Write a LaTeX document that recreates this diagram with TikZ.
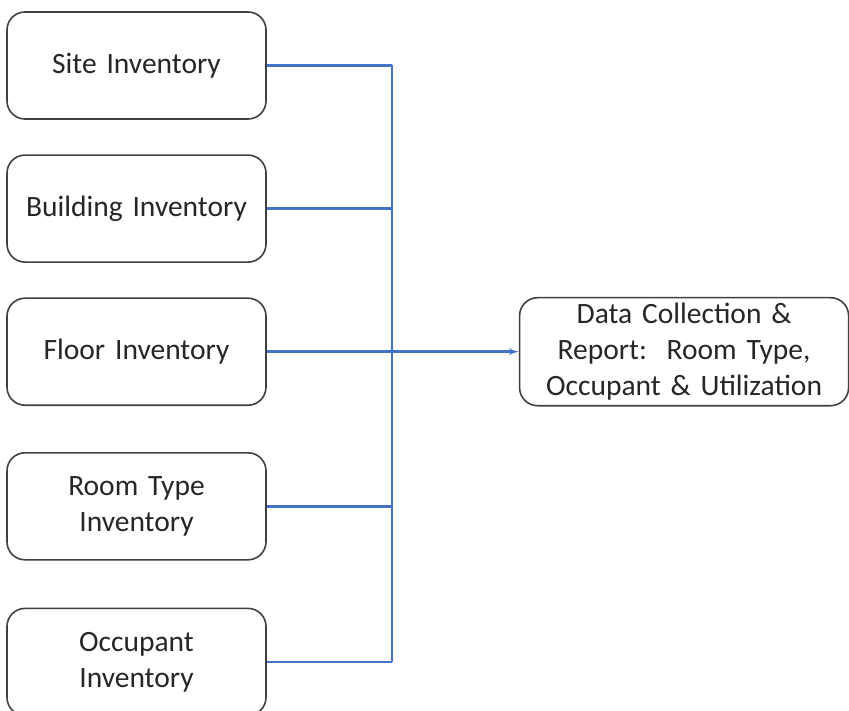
\documentclass[tikz,border=0pt]{standalone}
\usepackage{fontspec}
\setmainfont{Carlito}
\usetikzlibrary{shapes,arrows,positioning}
\definecolor{linkblue}{RGB}{68,114,196}
\definecolor{boxgrey}{RGB}{64,64,64}
\tikzstyle{block} = [rectangle, draw=boxgrey, line width=1.6pt, text=black!85,
    text width=245pt, align=center, rounded corners=18pt,
    minimum width=259pt, minimum height=107pt,
    font=\fontsize{29.5}{36}\selectfont]
\tikzstyle{line} = [draw=linkblue, line width=2.4pt]

\begin{document}
\begin{tikzpicture}[x=1pt, y=-1pt]
	    \useasboundingbox (0,0) rectangle (849,711);
	    % Place nodes
	    \node [block] (site) at (136.5,65.5) {Site Inventory};
	    \node [block, below=34.5pt of site] (building) {Building Inventory};
	    \node [block, below=34.5pt of building] (floor) {Floor Inventory};
	    \node [block, below=46pt of floor] (roomtype) {Room Type\\Inventory};
	    \node [block, below=47pt of roomtype] (occupant) {Occupant\\Inventory};
	    \node [block, text width=315pt, minimum width=329pt, minimum height=108pt,
	        right=252pt of floor] (report) {Data Collection \&\\Report:\ \ Room Type,\\Occupant \& Utilization};
	    \coordinate (top) at (392,0 |- site.east);
	    \coordinate (bottom) at (392,0 |- occupant.east);
	    % Draw edges
	    \path [line] (site.east) -- (top);
	    \path [line] (building.east) -- (building.east -| top);
	    \path [line] (roomtype.east) -- (roomtype.east -| top);
	    \path [line] (occupant.east) -- (bottom);
	    \path [line] (top) -- (bottom);
	    \path [line, -latex'] (floor.east) -- (report.west);
	\end{tikzpicture}
\end{document}
